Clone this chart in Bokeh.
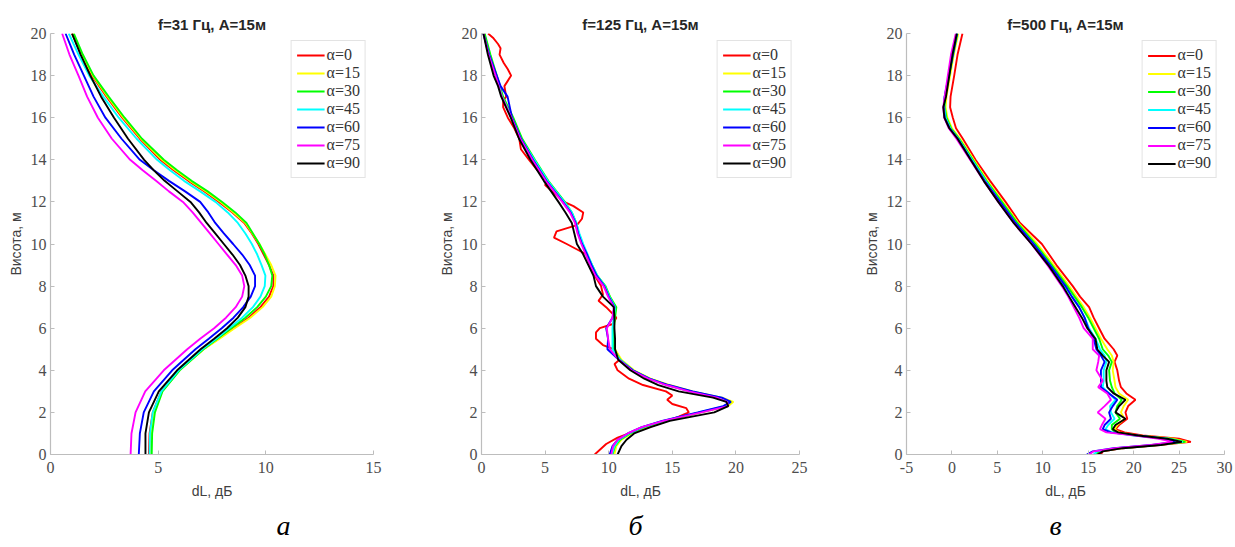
from bokeh.plotting import figure
from bokeh.layouts import row
from bokeh.models import Range1d, FixedTicker, Legend, LegendItem, Title
from bokeh.embed import file_html
from bokeh.resources import INLINE

# ---------------- data ----------------
labels = ["α=0", "α=15", "α=30", "α=45", "α=60", "α=75", "α=90"]
colors = ["#ff0000", "#ffff00", "#00ff00", "#00ffff", "#0000ff", "#ff00ff", "#000000"]

titles = ["f=31 Гц, A=15м", "f=125 Гц, A=15м", "f=500 Гц, A=15м"]
letters = ["а", "б", "в"]
y_ticks = [0, 2, 4, 6, 8, 10, 12, 14, 16, 18, 20]
x_ticks_1 = [0, 5, 10, 15]
x_ticks_2 = [0, 5, 10, 15, 20, 25]
x_ticks_3 = [-5, 0, 5, 10, 15, 20, 25, 30]

# panel 1: f = 31 Hz
p1_h = [0, 1, 2, 3, 4, 5, 5.5, 6, 6.5, 7, 7.5, 8, 8.5, 9, 9.5, 10, 10.5, 11, 11.5, 12, 12.5, 13, 13.5, 14, 15, 16, 17, 18, 19, 20]
p1_a0 = [4.57, 4.6, 4.75, 5.15, 5.95, 7.1, 7.8, 8.5, 9.2, 9.75, 10.15, 10.35, 10.35, 10.15, 9.9, 9.65, 9.35, 9.0, 8.45, 7.82, 7.15, 6.4, 5.72, 5.1, 4.15, 3.33, 2.6, 1.93, 1.42, 1.0]
p1_a15 = [4.62, 4.65, 4.8, 5.18, 5.98, 7.12, 7.85, 8.55, 9.28, 9.85, 10.25, 10.42, 10.45, 10.25, 9.98, 9.7, 9.38, 9.05, 8.5, 7.9, 7.22, 6.48, 5.8, 5.18, 4.2, 3.38, 2.65, 1.97, 1.46, 1.04]
p1_a30 = [4.7, 4.72, 4.85, 5.2, 6.0, 7.1, 7.75, 8.4, 9.05, 9.6, 10.0, 10.25, 10.3, 10.15, 9.95, 9.7, 9.4, 9.1, 8.58, 7.97, 7.3, 6.55, 5.88, 5.26, 4.25, 3.44, 2.7, 2.0, 1.5, 1.08]
p1_a45 = [4.6, 4.62, 4.75, 5.15, 5.95, 7.05, 7.7, 8.3, 8.9, 9.4, 9.75, 9.95, 9.98, 9.8, 9.6, 9.35, 9.05, 8.7, 8.23, 7.66, 6.95, 6.2, 5.55, 4.95, 4.0, 3.17, 2.45, 1.8, 1.3, 0.85]
p1_a60 = [4.1, 4.15, 4.33, 4.8, 5.65, 6.73, 7.35, 7.95, 8.5, 8.95, 9.3, 9.5, 9.5, 9.25, 8.9, 8.48, 8.05, 7.65, 7.33, 6.95, 6.25, 5.5, 4.8, 4.15, 3.3, 2.55, 2.0, 1.55, 1.1, 0.7]
p1_a75 = [3.72, 3.76, 3.95, 4.4, 5.26, 6.35, 6.95, 7.6, 8.15, 8.6, 8.9, 9.0, 8.9, 8.6, 8.2, 7.8, 7.4, 7.0, 6.6, 6.15, 5.5, 4.9, 4.28, 3.7, 2.85, 2.2, 1.7, 1.3, 0.88, 0.54]
p1_a90 = [4.41, 4.41, 4.57, 5.03, 5.88, 6.97, 7.6, 8.2, 8.7, 9.05, 9.2, 9.2, 9.05, 8.8, 8.45, 8.05, 7.65, 7.25, 6.9, 6.5, 5.9, 5.3, 4.8, 4.35, 3.6, 2.95, 2.35, 1.85, 1.4, 1.0]

# panel 2: f = 125 Hz
p2_h = [0, 0.4, 0.7, 1.0, 1.3, 1.6, 2.0, 2.3, 2.5, 2.7, 3.0, 3.3, 3.6, 4.0, 4.5, 5.0, 5.5, 6.0, 6.5, 7.0, 7.5, 8.0, 8.5, 9.0, 9.5, 10.0, 10.5, 11.0, 11.5, 12.0, 13.0, 14.0, 15.0, 16.0, 17.0, 17.5, 18.0, 19.0, 20.0]
p2_h_a0 = [0, 0.5, 0.8, 1.0, 1.5, 1.8, 2.0, 2.2, 2.4, 2.6, 2.8, 3.0, 3.3, 3.6, 4.0, 4.3, 4.5, 5.0, 5.2, 5.5, 5.8, 6.0, 6.2, 6.5, 7.0, 7.3, 7.6, 8.0, 8.5, 9.0, 9.5, 10.0, 10.3, 10.6, 10.9, 11.2, 11.5, 11.8, 12.0, 12.5, 12.8, 13.0, 13.5, 14.0, 14.5, 15.0, 15.5, 16.0, 16.5, 16.8, 17.0, 17.5, 18.0, 18.3, 18.6, 19.0, 19.3, 19.5, 19.8, 20.0]
p2_a0 = [8.9, 9.8, 10.7, 11.6, 14.2, 15.5, 16.3, 16.1, 15.0, 14.6, 15.0, 14.5, 12.7, 11.6, 10.7, 10.46, 10.85, 10.4, 9.55, 9.0, 9.0, 9.3, 10.33, 10.6, 9.8, 9.2, 9.55, 9.4, 8.9, 8.55, 8.26, 6.7, 5.7, 5.9, 7.5, 7.9, 8.0, 7.23, 6.5, 5.55, 5.0, 5.16, 4.4, 3.74, 3.1, 2.97, 2.58, 2.07, 1.7, 1.7, 1.94, 1.8, 2.33, 2.07, 1.75, 1.42, 1.5, 1.3, 0.9, 0.52]
p2_a15 = [10.45, 10.6, 11.0, 11.8, 12.9, 14.5, 17.3, 19.4, 19.8, 18.9, 16.6, 14.8, 13.3, 12.0, 11.0, 10.5, 10.45, 10.4, 10.45, 10.55, 10.1, 9.7, 9.05, 8.65, 8.3, 7.9, 7.6, 7.4, 7.05, 6.5, 5.2, 4.15, 3.15, 2.45, 1.65, 1.4, 1.15, 0.65, 0.2]
p2_a30 = [10.3, 10.5, 10.9, 11.7, 12.8, 14.4, 17.2, 19.2, 19.6, 18.7, 16.4, 14.6, 13.2, 11.9, 10.9, 10.4, 10.4, 10.4, 10.5, 10.6, 10.1, 9.75, 9.1, 8.7, 8.3, 7.95, 7.65, 7.45, 7.1, 6.55, 5.25, 4.2, 3.2, 2.5, 1.7, 1.45, 1.2, 0.7, 0.25]
p2_a45 = [10.25, 10.45, 10.8, 11.6, 12.7, 14.3, 17.1, 19.1, 19.55, 18.8, 16.5, 14.6, 13.2, 11.9, 10.9, 10.3, 10.3, 10.3, 10.4, 10.5, 10.05, 9.7, 9.1, 8.7, 8.35, 8.0, 7.7, 7.45, 7.1, 6.5, 5.2, 4.15, 3.1, 2.4, 1.6, 1.4, 1.1, 0.6, 0.15]
p2_a60 = [10.08, 10.3, 10.7, 11.5, 12.6, 14.2, 17.0, 19.0, 19.6, 18.9, 16.6, 14.7, 13.2, 11.9, 10.8, 9.9, 9.95, 9.8, 10.3, 10.45, 10.0, 9.65, 9.05, 8.65, 8.3, 7.9, 7.6, 7.4, 7.0, 6.4, 5.1, 4.05, 3.1, 2.4, 2.05, 1.5, 1.2, 0.6, 0.15]
p2_a75 = [10.2, 10.35, 10.7, 11.5, 12.6, 14.3, 17.3, 19.4, 19.3, 18.5, 16.3, 14.5, 13.1, 11.8, 10.8, 10.1, 9.95, 9.85, 10.3, 10.4, 9.95, 9.6, 8.95, 8.55, 8.2, 7.85, 7.55, 7.35, 6.95, 6.35, 5.05, 4.0, 3.05, 2.35, 1.6, 1.35, 1.1, 0.55, 0.15]
p2_a90 = [10.7, 11.0, 11.4, 12.0, 13.3, 14.8, 18.3, 19.4, 19.25, 18.2, 15.5, 13.9, 12.8, 11.7, 10.75, 10.5, 10.5, 10.45, 10.45, 10.4, 9.55, 9.0, 8.8, 8.4, 8.0, 7.5, 7.3, 7.1, 6.6, 6.05, 4.9, 3.85, 2.95, 2.3, 1.55, 1.3, 0.95, 0.5, 0.15]

# panel 3: f = 500 Hz
p3_h = [0, 0.15, 0.3, 0.45, 0.6, 0.75, 0.9, 1.05, 1.2, 1.4, 1.7, 2.0, 2.3, 2.6, 2.9, 3.2, 3.5, 4.0, 4.4, 4.7, 5.0, 5.5, 6.0, 6.5, 7.0, 7.5, 8.0, 9.0, 10.0, 11.0, 12.0, 13.0, 14.0, 15.0, 15.5, 16.0, 16.5, 17.0, 18.0, 19.0, 20.0]
p3_a0 = [16.4, 16.6, 18.8, 22.8, 26.3, 25.0, 21.0, 19.0, 18.0, 18.4, 19.3, 19.1, 19.4, 20.2, 19.2, 18.6, 18.4, 18.2, 17.9, 18.2, 17.8, 16.8, 16.2, 15.6, 15.1, 14.1, 13.3, 11.5, 9.9, 7.5, 5.9, 4.2, 2.6, 1.2, 0.45, 0.1, -0.2, -0.15, 0.25, 0.62, 1.16]
p3_a15 = [16.2, 16.4, 18.6, 22.6, 25.9, 24.3, 20.5, 18.4, 17.9, 18.2, 19.0, 18.6, 18.9, 19.4, 18.4, 18.0, 17.9, 17.7, 17.8, 17.6, 17.1, 16.4, 15.8, 15.2, 14.5, 13.7, 12.9, 11.2, 9.4, 7.3, 5.6, 3.9, 2.4, 0.9, 0.0, -0.5, -0.7, -0.6, -0.2, 0.2, 0.7]
p3_a30 = [15.9, 16.2, 18.5, 22.5, 25.7, 24.0, 20.2, 18.0, 17.6, 17.6, 18.5, 18.0, 18.2, 18.7, 17.9, 17.6, 17.4, 17.3, 17.6, 17.2, 16.6, 16.2, 15.6, 15.0, 14.3, 13.5, 12.7, 11.0, 9.2, 7.2, 5.5, 3.8, 2.3, 0.8, -0.1, -0.6, -0.8, -0.75, -0.3, 0.15, 0.6]
p3_a45 = [15.6, 16.0, 18.3, 22.3, 25.4, 23.8, 20.0, 17.6, 16.9, 17.2, 17.9, 17.5, 17.4, 18.0, 17.3, 16.6, 16.7, 16.7, 17.0, 16.8, 16.3, 15.8, 15.1, 14.6, 14.0, 13.2, 12.4, 10.8, 9.0, 7.0, 5.3, 3.7, 2.2, 0.7, -0.2, -0.7, -0.85, -0.8, -0.35, 0.1, 0.55]
p3_a60 = [14.85, 15.5, 17.8, 22.0, 24.6, 23.3, 20.4, 17.5, 16.6, 16.8, 17.5, 17.3, 17.7, 18.2, 17.3, 16.4, 16.4, 16.4, 16.8, 16.4, 15.9, 15.6, 15.0, 14.6, 14.0, 13.2, 12.5, 10.8, 9.0, 7.0, 5.3, 3.6, 2.1, 0.65, -0.25, -0.8, -0.9, -0.8, -0.35, 0.1, 0.55]
p3_a75 = [15.1, 15.6, 18.0, 21.9, 24.3, 22.8, 20.2, 17.0, 16.3, 16.5, 16.9, 16.05, 16.8, 17.5, 17.1, 16.1, 16.6, 15.9, 16.1, 16.2, 15.5, 15.5, 14.5, 14.0, 13.4, 12.8, 12.1, 10.5, 8.76, 6.8, 5.1, 3.5, 2.0, 0.5, -0.35, -0.85, -0.95, -0.8, -0.45, -0.1, 0.43]
p3_a90 = [16.05, 16.6, 18.8, 23.0, 25.3, 23.7, 20.5, 18.3, 17.7, 18.0, 19.1, 18.0, 18.4, 19.1, 17.8, 17.1, 17.0, 17.0, 17.3, 16.6, 16.0, 15.8, 14.9, 14.3, 13.6, 12.9, 12.2, 10.6, 8.76, 6.8, 5.1, 3.5, 2.06, 0.62, -0.29, -0.83, -0.95, -0.65, -0.29, 0.07, 0.54]

# ---------------- figures ----------------
def make_panel(title, xr, xticks, heights, series, letter, letter_offset, ml, mr, width, leg_item_h):
    p = figure(width=width, height=547, output_backend="svg", toolbar_location=None,
               x_range=Range1d(xr[0], xr[1]), y_range=Range1d(0, 20),
               min_border_left=ml, min_border_right=mr,
               min_border_top=33, min_border_bottom=93,
               title=title)
    p.outline_line_color = None
    p.grid.visible = False
    p.background_fill_color = "white"
    p.border_fill_color = "white"

    p.title.align = "center"
    p.title.text_font = "Liberation Sans"
    p.title.text_font_size = "15px"
    p.title.text_font_style = "bold"
    p.title.text_color = "#262626"
    p.title.standoff = 2

    p.xaxis.ticker = FixedTicker(ticks=xticks)
    p.yaxis.ticker = FixedTicker(ticks=y_ticks)
    p.xaxis.major_label_overrides = {t: str(t) for t in xticks}
    for ax in (p.xaxis, p.yaxis):
        ax.axis_line_color = "#bdbdbd"
        ax.axis_line_width = 1.2
        ax.major_tick_line_color = "#bdbdbd"
        ax.major_tick_in = 4
        ax.major_tick_out = 0
        ax.minor_tick_line_color = None
        ax.major_label_text_font = "Liberation Serif"
        ax.major_label_text_font_size = "16px"
        ax.major_label_text_color = "#4d4d4d"
        ax.axis_label_text_font = "Liberation Sans"
        ax.axis_label_text_font_size = "14px"
        ax.axis_label_text_font_style = "normal"
        ax.axis_label_text_color = "#404040"
    p.xaxis.axis_label = "dL, дБ"
    p.yaxis.axis_label = "Висота, м"
    p.xaxis.major_label_standoff = 7
    p.xaxis.axis_label_standoff = 7
    p.yaxis.major_label_standoff = 4
    p.yaxis.axis_label_standoff = 4

    items = []
    for i, xs in enumerate(series):
        r = p.line(xs, heights[i], line_color=colors[i], line_width=1.9)
        items.append(LegendItem(label=labels[i], renderers=[r]))
    leg = Legend(items=items, location="top_right",
                 border_line_color="#c8c8c8", border_line_width=1,
                 background_fill_color="white", background_fill_alpha=1,
                 label_text_font="Liberation Serif", label_text_font_size="16px",
                 label_text_color="#333333",
                 glyph_width=28, glyph_height=leg_item_h, label_height=leg_item_h,
                 spacing=0, padding=5, margin=7, label_standoff=2)
    p.add_layout(leg)

    p.add_layout(Title(text=letter, align="left", offset=letter_offset,
                       text_font="Liberation Serif", text_font_style="italic",
                       text_font_size="28px", text_color="#000000", standoff=12),
                 "below")
    return p


f1 = make_panel(titles[0], (0, 15), x_ticks_1, [p1_h] * 7,
                [p1_a0, p1_a15, p1_a30, p1_a45, p1_a60, p1_a75, p1_a90],
                letters[0], 226, 50, 62, 435, 18)
f2 = make_panel(titles[1], (0, 25), x_ticks_2, [p2_h_a0] + [p2_h] * 6,
                [p2_a0, p2_a15, p2_a30, p2_a45, p2_a60, p2_a75, p2_a90],
                letters[1], 147, 42, 61, 425, 18)
f3 = make_panel(titles[2], (-5, 30), x_ticks_3, [p3_h] * 7,
                [p3_a0, p3_a15, p3_a30, p3_a45, p3_a60, p3_a75, p3_a90],
                letters[2], 143, 42, 11, 375, 17)

layout = row(f1, f2, f3)
open("out.html", "w").write(file_html(layout, INLINE))
